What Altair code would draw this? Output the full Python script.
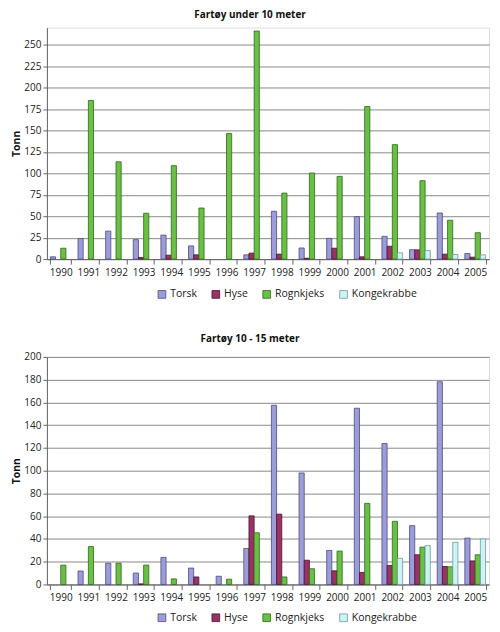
import altair as alt
import pandas as pd

years = [str(y) for y in range(1990, 2006)]
series = ["Torsk", "Hyse", "Rognkjeks", "Kongekrabbe"]

# Fartøy under 10 meter
torsk1 = [2.7, 24, 32.7, 22.7, 28, 15.4, 0, 5, 55.8, 13, 24.2, 49.6, 26.5, 11, 53.8, 6.5]
hyse1 = [0, 0, 0, 2, 4.6, 5, 0, 7, 5.8, 1, 12.7, 2.7, 15, 10.8, 5.8, 2.3]
rogn1 = [12.7, 185, 113.5, 53.5, 109, 59.6, 146.5, 266, 77, 100.4, 96.5, 178, 133.5, 91.5, 45.4, 30.8]
konge1 = [0, 0, 0, 0, 0, 0, 0, 0, 0, 0, 0, 0, 7.3, 10, 5.4, 5]

# Fartøy 10 - 15 meter
torsk2 = [0, 11.8, 18.7, 10, 23.8, 14.4, 7.2, 31.6, 157.5, 98, 29.9, 154.9, 123.9, 51.7, 178.2, 40.8]
hyse2 = [0, 0, 0, 0.5, 0, 6.6, 0, 60.3, 61.8, 21.3, 12, 10.6, 16.7, 26.1, 15.8, 20.7]
rogn2 = [17, 33.3, 18.7, 17, 4.9, 0, 4.6, 45.4, 6.6, 13.8, 29.3, 71.3, 55.5, 32.8, 15.5, 26.1]
konge2 = [0, 0, 0, 0, 0, 0, 0, 0, 0, 0, 0, 0, 23, 34.2, 37, 40]

ticks1 = [0, 25, 50, 75, 100, 125, 150, 175, 200, 225, 250]
ticks2 = [0, 20, 40, 60, 80, 100, 120, 140, 160, 180, 200]

colors = ["#9c9cd8", "#993366", "#6abf45", "#cdf3f7"]
strokes = ["#4b4b82", "#4a1530", "#2e6a1c", "#6f9aa0"]

FONT = "Open Sans"


def frame(values):
    rows = []
    for s, vals in zip(series, values):
        for y, v in zip(years, vals):
            rows.append({"År": y, "Art": s, "Tonn": v})
    return pd.DataFrame(rows)


def panel(df, title, ymax, ticks, height, legend_y):
    leg = alt.Legend(
        title=None, orient="none", legendX=110, legendY=legend_y,
        direction="horizontal", symbolType="square", symbolSize=60,
        symbolStrokeWidth=0.8, labelFont=FONT, labelFontSize=10.5,
        labelColor="#222", columnPadding=12, labelOffset=3,
    )
    return alt.Chart(
        df,
        title=alt.Title(title, font=FONT, fontSize=10, fontWeight="bold",
                        color="#111", offset=8, anchor="middle", dx=-18),
    ).transform_filter("datum.Tonn > 0").mark_bar(strokeWidth=0.8).encode(
        x=alt.X("År:N", scale=alt.Scale(domain=years, paddingInner=0.25, paddingOuter=0.125),
                axis=alt.Axis(title=None, labelAngle=0, tickBand="extent", grid=False,
                              labelFont=FONT, labelFontSize=10, labelColor="#222",
                              tickSize=5, labelPadding=3, domainColor="#666", tickColor="#666")),
        xOffset=alt.XOffset("Art:N", scale=alt.Scale(domain=series)),
        y=alt.Y("Tonn:Q", scale=alt.Scale(domain=[0, ymax], nice=False),
                axis=alt.Axis(title="Tonn", values=ticks, titleFont=FONT, titleFontSize=10.5,
                              titleFontWeight="bold", titleColor="#111", titlePadding=2,
                              labelFont=FONT, labelFontSize=10, labelColor="#222",
                              labelPadding=2, tickSize=4, domainColor="#666", tickColor="#666",
                              grid=True, gridColor="#8a8a8a", gridWidth=1)),
        color=alt.Color("Art:N", scale=alt.Scale(domain=series, range=colors), legend=leg),
        stroke=alt.Stroke("Art:N", scale=alt.Scale(domain=series, range=strokes), legend=leg),
    ).properties(width=443, height=height)


top = panel(frame([torsk1, hyse1, rogn1, konge1]), "Fartøy under 10 meter", 270, ticks1, 232, 262)
bottom = panel(frame([torsk2, hyse2, rogn2, konge2]), "Fartøy 10 - 15 meter", 200, ticks2, 228, 256)

chart = alt.vconcat(top, bottom, spacing=32).resolve_scale(
    y="independent", color="independent", stroke="independent"
).resolve_legend(color="independent", stroke="independent").properties(
    padding={"left": 3, "top": 0, "right": 2, "bottom": 0}
).configure_view(stroke="#8a8a8a").configure(background="white")

chart.save("out.html", embed_options={"renderer": "svg", "actions": False})
